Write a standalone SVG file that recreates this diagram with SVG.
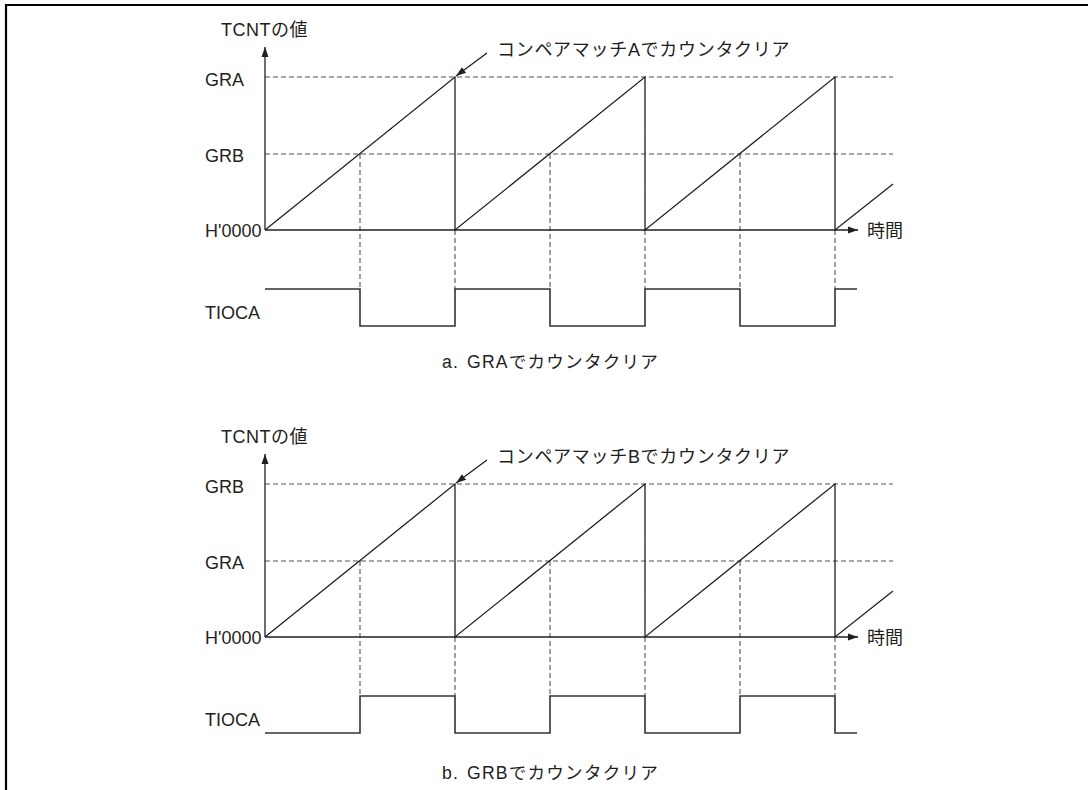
<svg xmlns="http://www.w3.org/2000/svg" width="1088" height="790" viewBox="0 0 1088 790">
<defs>
<style>
text{font-family:"Liberation Sans","Noto Sans CJK JP",sans-serif;font-size:18px;fill:#231f20}
.cap{font-size:17.6px;letter-spacing:1.2px}
.ann{letter-spacing:0.7px}
.ax{letter-spacing:0.5px}
.ln{stroke:#231f20;stroke-width:1.3;fill:none}
.ds{stroke:#555;stroke-width:1.1;stroke-dasharray:5 3;fill:none}
.wv{stroke:#333;stroke-width:1.6;fill:none}
</style>
<marker id="ah" viewBox="0 0 10 10" refX="10" refY="5" markerWidth="10" markerHeight="10" markerUnits="userSpaceOnUse" orient="auto">
<path d="M0,1.5 L10,5 L0,8.5 Z" fill="#231f20"/>
</marker>
</defs>
<rect width="1088" height="790" fill="#fff"/>
<path d="M6,790 V5 H1088" stroke="#000" stroke-width="2.2" fill="none"/>

<g id="chart-a">
<text class="ax" x="221" y="36">TCNTの値</text>
<text x="205" y="86">GRA</text>
<text x="205" y="162">GRB</text>
<text x="205" y="237">H'0000</text>
<text x="205" y="319">TIOCA</text>
<text class="ann" x="497" y="56">コンペアマッチAでカウンタクリア</text>
<text class="cap" y="368"><tspan x="442">a.</tspan><tspan x="467">GRAでカウンタクリア</tspan></text>
<text x="867" y="237">時間</text>
</g>
<g id="connectors-a">
<path class="ds" d="M265,77 H893 M265,154 H893"/>
<path class="ds" d="M360,154 V289 M550,154 V289 M740,154 V289 M455,230 V289 M645,230 V289 M835,230 V289"/>
<path class="ln" d="M265,230 V47" marker-end="url(#ah)"/>
<path class="ln" d="M265,230 H858" marker-end="url(#ah)"/>
<path class="ln" d="M265,230 L455,77 V230 L645,77 V230 L835,77 V230 L893,184"/>
<path class="ln" d="M487,53 L456,76" marker-end="url(#ah)"/>
<path class="wv" d="M265,289 H360 V326 H455 V289 H550 V326 H645 V289 H740 V326 H835 V289 H857"/>
</g>

<g id="chart-b">
<text class="ax" x="221" y="443">TCNTの値</text>
<text x="205" y="493">GRB</text>
<text x="205" y="569">GRA</text>
<text x="205" y="644">H'0000</text>
<text x="205" y="726">TIOCA</text>
<text class="ann" x="497" y="463">コンペアマッチBでカウンタクリア</text>
<text class="cap" y="779"><tspan x="442">b.</tspan><tspan x="467">GRBでカウンタクリア</tspan></text>
<text x="867" y="644">時間</text>
</g>
<g id="connectors-b">
<path class="ds" d="M265,484 H893 M265,561 H893"/>
<path class="ds" d="M360,561 V696 M550,561 V696 M740,561 V696 M455,637 V696 M645,637 V696 M835,637 V696"/>
<path class="ln" d="M265,637 V454" marker-end="url(#ah)"/>
<path class="ln" d="M265,637 H858" marker-end="url(#ah)"/>
<path class="ln" d="M265,637 L455,484 V637 L645,484 V637 L835,484 V637 L893,591"/>
<path class="ln" d="M487,460 L456,483" marker-end="url(#ah)"/>
<path class="wv" d="M265,733 H360 V696 H455 V733 H550 V696 H645 V733 H740 V696 H835 V733 H857"/>
</g>
</svg>
